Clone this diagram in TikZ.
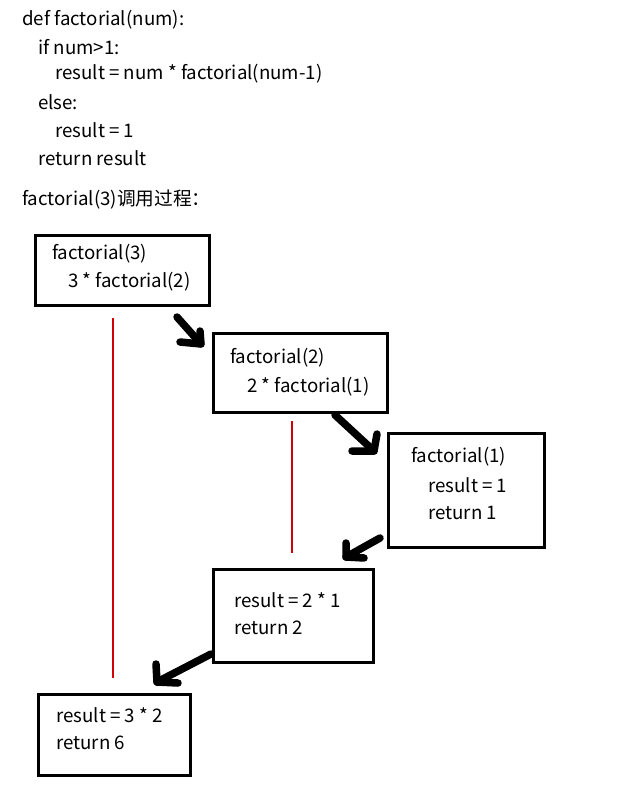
\documentclass[tikz,border=0pt]{standalone}
\usepackage{fontspec}
\setmainfont{Noto Sans CJK SC}
\begin{document}
\begin{tikzpicture}[x=1pt,y=-1pt,
  txt/.style={anchor=west,inner sep=0pt,font=\fontsize{18.7}{22}\selectfont},
  box/.style={draw=black,line width=3pt,anchor=north west,inner sep=0pt},
  arr/.style={line width=7.5pt,line cap=round,line join=round},
  redline/.style={draw={rgb,255:red,210;green,0;blue,0},line width=1.4pt}]
\useasboundingbox (0,0) rectangle (633,799);
% code
\node[txt] (c1) at (22,20) {def factorial(num):};
\node[txt] (c2) at (38,47) {if num>1:};
\node[txt] (c3) at (55,74) {result = num * factorial(num-1)};
\node[txt] (c4) at (38,102) {else:};
\node[txt] (c5) at (55,130) {result = 1};
\node[txt] (c6) at (38,158) {return result};
\node[txt] (c7) at (22,200) {factorial(3)调用过程：};
% boxes
\node[box,minimum width=174,minimum height=70] (b1) at (34,234) {};
\node[box,minimum width=174,minimum height=79] (b2) at (212,332) {};
\node[box,minimum width=156,minimum height=114] (b3) at (387,432) {};
\node[box,minimum width=160,minimum height=93] (b4) at (212,568) {};
\node[box,minimum width=152,minimum height=81] (b5) at (37,693) {};
% box texts
\node[txt] (t11) at (52,254) {factorial(3)};
\node[txt] (t12) at (68,282) {3 * factorial(2)};
\node[txt] (t21) at (230,358) {factorial(2)};
\node[txt] (t22) at (247,387) {2 * factorial(1)};
\node[txt] (t31) at (411,457) {factorial(1)};
\node[txt] (t32) at (428,485) {result = 1};
\node[txt] (t33) at (428,513) {return 1};
\node[txt] (t41) at (234,600) {result = 2 * 1};
\node[txt] (t42) at (234,628) {return 2};
\node[txt] (t51) at (56,715) {result = 3 * 2};
\node[txt] (t52) at (56,743) {return 6};
% red lines
\coordinate (r1a) at (113,318); \coordinate (r1b) at (113,678);
\coordinate (r2a) at (292,421); \coordinate (r2b) at (292,553);
\draw[redline] (r1a) -- (r1b);
\draw[redline] (r2a) -- (r2b);
% arrows
\coordinate (a1s) at (177,317); \coordinate (a1t) at (201,344);
\coordinate (a1l) at (180,342); \coordinate (a1u) at (200,331);
\draw[arr] (a1s) -- (a1t);
\draw[arr] (a1l) -- (a1t) -- (a1u);
\coordinate (a2s) at (335,415); \coordinate (a2t) at (374,451);
\coordinate (a2l) at (352,451); \coordinate (a2u) at (377,434);
\draw[arr] (a2s) -- (a2t);
\draw[arr] (a2l) -- (a2t) -- (a2u);
\coordinate (a3s) at (380,538); \coordinate (a3t) at (346,557);
\coordinate (a3u) at (346,543); \coordinate (a3r) at (364,558);
\draw[arr] (a3s) -- (a3t);
\draw[arr] (a3u) -- (a3t) -- (a3r);
\coordinate (a4s) at (211,654); \coordinate (a4t) at (157,682);
\coordinate (a4u) at (156,664); \coordinate (a4r) at (178,683);
\draw[arr] (a4s) -- (a4t);
\draw[arr] (a4u) -- (a4t) -- (a4r);
\end{tikzpicture}
\end{document}
